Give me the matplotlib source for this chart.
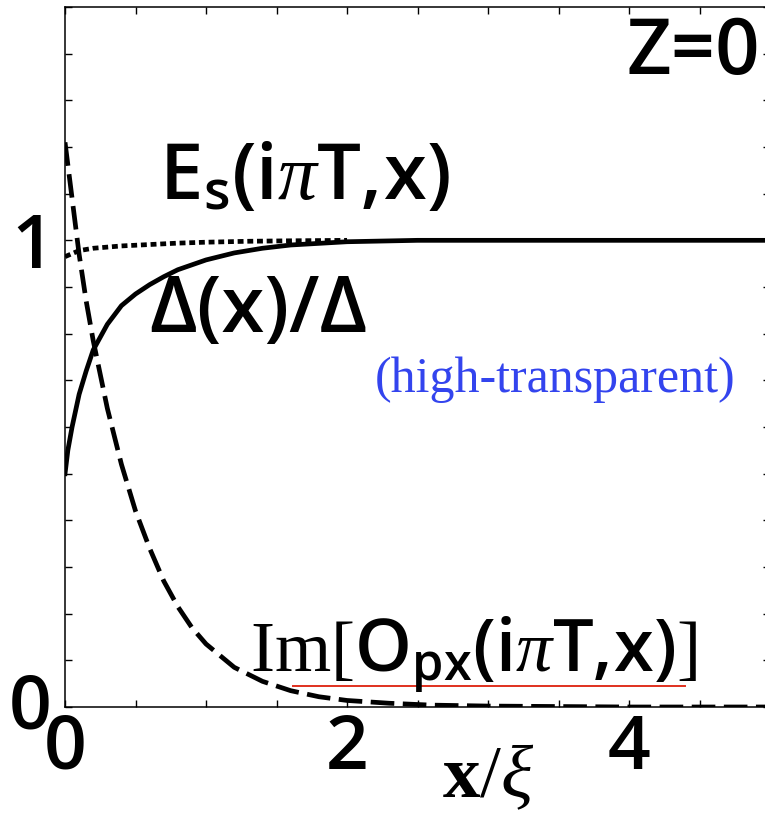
import matplotlib.pyplot as plt
from matplotlib.transforms import offset_copy

plt.rcParams['font.family'] = ['Open Sans', 'DejaVu Sans']
plt.rcParams['font.weight'] = 'semibold'
plt.rcParams['mathtext.fontset'] = 'custom'
plt.rcParams['mathtext.rm'] = 'Liberation Serif:weight=normal'
plt.rcParams['mathtext.it'] = 'Liberation Serif:style=italic:weight=normal'
plt.rcParams['mathtext.bf'] = 'Liberation Serif:weight=bold'
plt.rcParams['mathtext.sf'] = 'Open Sans:weight=semibold'

# pair potential Delta(x)/Delta (solid)
x_gap = [0, 0.02, 0.05, 0.1, 0.15, 0.2, 0.3, 0.4, 0.5, 0.6, 0.7, 0.8,
         1.0, 1.2, 1.4, 1.6, 2.0, 2.5, 3.0, 5.0]
gap = [0.50, 0.55, 0.60, 0.67, 0.72, 0.765, 0.82, 0.86, 0.885, 0.905, 0.922, 0.937,
       0.958, 0.973, 0.983, 0.99, 0.997, 1.0, 1.0, 1.0]

# normal Green's function E_s(i pi T, x) (dotted)
x_es = [0, 0.1, 0.2, 0.4, 0.6, 0.8, 1.0, 1.3, 1.6, 2.0]
es = [0.965, 0.978, 0.983, 0.988, 0.991, 0.994, 0.996, 0.998, 0.999, 1.0]

# odd-frequency pair amplitude Im[O_px(i pi T, x)] (dashed)
x_im = [0, 0.05, 0.1, 0.15, 0.2, 0.3, 0.4, 0.5, 0.6, 0.7, 0.8, 0.9, 1.0,
        1.2, 1.4, 1.6, 1.8, 2.0, 2.3, 2.6, 3.0, 3.5, 4.0, 5.0]
im_opx = [1.21, 1.09, 0.97, 0.87, 0.785, 0.64, 0.52, 0.42, 0.34, 0.27, 0.215, 0.17, 0.135,
          0.085, 0.055, 0.035, 0.022, 0.014, 0.008, 0.004, 0.002, 0.001, 0.0, 0.0]

xticks = [0, 2, 4]
yticks = [0, 1]

fig = plt.figure(figsize=(7.65, 8.24), dpi=100)
ax = fig.add_axes([0.085, 0.142, 0.9216, 0.8495])

ax.plot(x_es, es, color='k', lw=3.4, linestyle=(0, (1.25, 0.8)))
ax.plot(x_im, im_opx, color='k', lw=3.4, linestyle=(0, (5, 1.8)))
ax.plot(x_gap, gap, color='k', lw=3.4)

ax.set_xlim(0, 5)
ax.set_ylim(0, 1.5)
ax.set_xticks(xticks, [str(v) for v in xticks])
ax.set_xticks([0.5 * i for i in range(11)], minor=True)
ax.set_yticks(yticks, [str(v) for v in yticks])
ax.set_yticks([0.1 * i for i in range(16)], minor=True)
ax.tick_params(which='both', direction='in', top=True, right=True,
               length=5, width=1.0, labelsize=54)
ax.tick_params(axis='x', pad=4)
ax.tick_params(axis='y', pad=8)
for s in ax.spines.values():
    s.set_linewidth(1.1)

# lift the y "0" a little so it clears the x "0"
fig.canvas.draw()
lab0 = ax.get_yticklabels()[0]
lab0.set_transform(offset_copy(lab0.get_transform(), fig=fig, x=-2, y=6, units='dots'))

ax.text(4.93, 1.356, 'Z=0', fontsize=56, ha='right', va='baseline')
ax.text(0.67, 1.088, r'$\mathsf{E}_{\mathsf{s}}\mathsf{(i}\pi\mathsf{T,\!x)}$',
        fontsize=56, ha='left', va='baseline')
ax.text(0.60, 0.803, 'Δ(x)/Δ', fontsize=56, ha='left', va='baseline')
ax.text(2.2, 0.674, '(high-transparent)', fontsize=36, color='#3344ee',
        family='Liberation Serif', weight='normal', ha='left', va='baseline')
ax.text(1.31, 0.075,
        r'$\mathrm{Im[}\mathsf{O}_{\mathsf{px}}\mathsf{(i}\pi\mathsf{T,\!x)}\mathrm{]}$',
        fontsize=52, ha='left', va='baseline')
ax.plot([1.62, 4.40], [0.045, 0.045], color='#e0301e', lw=1.4)

fig.text(488 / 765, 1 - 778 / 824, r'$\mathbf{x}\mathrm{/}\xi$', fontsize=54,
         ha='center', va='center')

fig.savefig('out.png', dpi=100)
